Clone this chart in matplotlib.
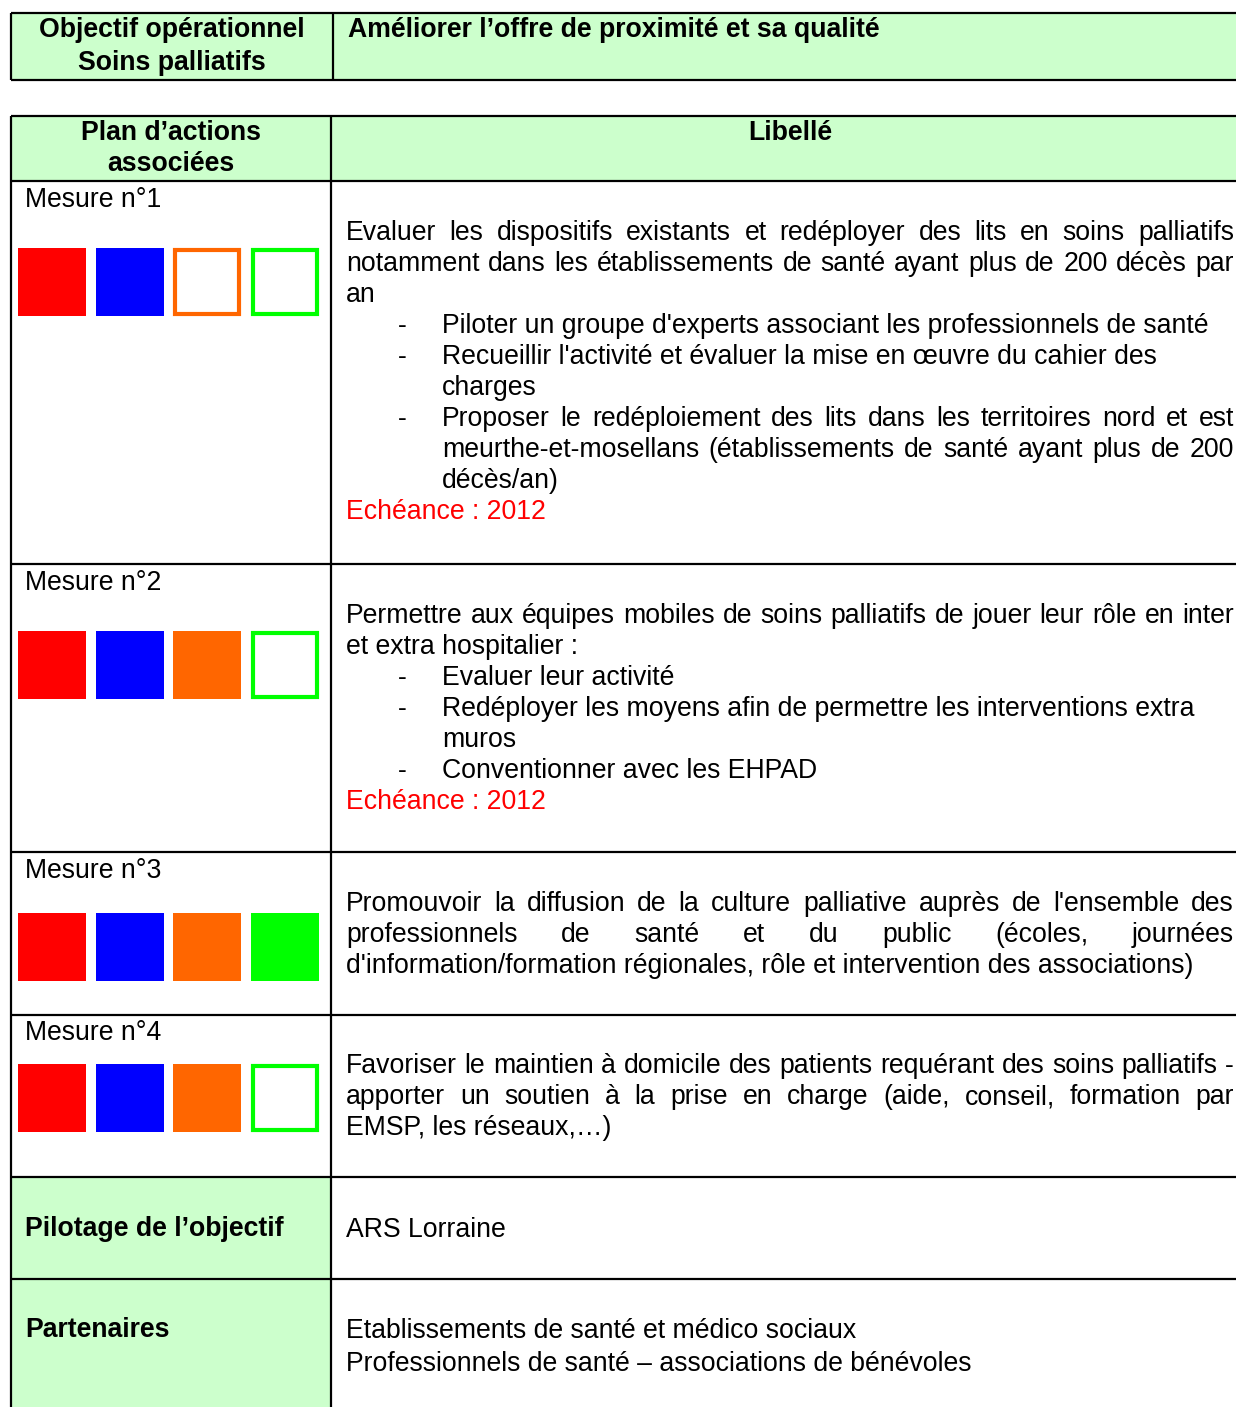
import matplotlib
matplotlib.use('Agg')
import matplotlib.pyplot as plt
from matplotlib.patches import Rectangle

plt.rcParams['font.family'] = ['Liberation Sans', 'DejaVu Sans']

GREEN = '#CCFFCC'
FS = 19.2

# table content
objectif = ['Objectif opérationnel', 'Soins palliatifs']
objectif_titre = 'Améliorer l\u2019offre de proximité et sa qualité'
entetes = [['Plan d\u2019actions', 'associées'], ['Libellé']]

mesures = ['Mesure n°1', 'Mesure n°2', 'Mesure n°3', 'Mesure n°4']
# 1 = filled square, 0 = outlined square
pastilles = [[1, 1, 0, 0],
             [1, 1, 1, 0],
             [1, 1, 1, 1],
             [1, 1, 1, 0]]
pastille_couleurs = ['#FF0000', '#0000FF', '#FF6600', '#00FF00']

# (kind, text): j = justified, p = plain, b/bj = bullet, c/cj = bullet continuation, r = red
libelle1 = [('j', 'Evaluer les dispositifs existants et redéployer des lits en soins palliatifs'),
            ('j', 'notamment dans les établissements de santé ayant plus de 200 décès par'),
            ('p', 'an'),
            ('b', 'Piloter un groupe d\'experts associant les professionnels de santé'),
            ('b', 'Recueillir l\'activité et évaluer la mise en \u0153uvre du cahier des'),
            ('c', 'charges'),
            ('bj', 'Proposer le redéploiement des lits dans les territoires nord et est'),
            ('cj', 'meurthe-et-mosellans (établissements de santé ayant plus de 200'),
            ('c', 'décès/an)'),
            ('r', 'Echéance : 2012')]
libelle2 = [('j', 'Permettre aux équipes mobiles de soins palliatifs de jouer leur rôle en inter'),
            ('p', 'et extra hospitalier :'),
            ('b', 'Evaluer leur activité'),
            ('b', 'Redéployer les moyens afin de permettre les interventions extra'),
            ('c', 'muros'),
            ('b', 'Conventionner avec les EHPAD'),
            ('r', 'Echéance : 2012')]
libelle3 = [('j', 'Promouvoir la diffusion de la culture palliative auprès de l\'ensemble des'),
            ('j', 'professionnels de santé et du public (écoles, journées'),
            ('p', 'd\'information/formation régionales, rôle et intervention des associations)')]
libelle4 = [('j', 'Favoriser le maintien à domicile des patients requérant des soins palliatifs -'),
            ('j', 'apporter un soutien à la prise en charge (aide, conseil, formation par'),
            ('p', 'EMSP, les réseaux,\u2026)')]
libelles = [libelle1, libelle2, libelle3, libelle4]

pilotage = ('Pilotage de l\u2019objectif', ['ARS Lorraine'])
partenaires = ('Partenaires', ['Etablissements de santé et médico sociaux',
                               'Professionnels de santé \u2013 associations de bénévoles'])

# layout (pixels)
W, H = 1236, 1407
row_edges = [181, 564, 852, 1015, 1177, 1279, H]
label_base = [207, 590, 878, 1040]
text_base = [240, 623, 911, 1073]
square_top = [248, 631, 913, 1064]
square_x = [18, 96, 173, 251]
SQ = 68
LINE = 31
XL, XR = 346, 1234
XB, XT = 398, 442

fig = plt.figure(figsize=(W / 100, H / 100), dpi=100)
ax = fig.add_axes([0, 0, 1, 1])
ax.set_xlim(0, W)
ax.set_ylim(H, 0)
ax.axis('off')
renderer = fig.canvas.get_renderer()


def hline(y, x0=11, x1=W):
    ax.plot([x0, x1], [y, y], color='black', lw=1.6, solid_capstyle='butt')


def vline(x, y0, y1):
    ax.plot([x, x], [y0, y1], color='black', lw=1.6, solid_capstyle='butt')


def justified(words_line, x0, x1, y, color='black'):
    words = words_line.split(' ')
    arts = [ax.text(0, y, w, fontsize=FS, color=color, va='baseline') for w in words]
    widths = [a.get_window_extent(renderer).width for a in arts]
    gap = (x1 - x0 - sum(widths)) / max(len(words) - 1, 1)
    x = x0
    for a, w in zip(arts, widths):
        a.set_x(x)
        x += w + gap


# top table
ax.add_patch(Rectangle((11, 13), W - 11, 67, facecolor=GREEN, edgecolor='none'))
hline(13)
hline(80)
vline(11, 13, 80)
vline(333, 13, 80)
for i, t in enumerate(objectif):
    ax.text(172, 37 + 33 * i, t, fontsize=FS, fontweight='bold', ha='center', va='baseline')
ax.text(348, 37, objectif_titre, fontsize=FS, fontweight='bold', va='baseline')

# second table
ax.add_patch(Rectangle((11, 116), W - 11, 65, facecolor=GREEN, edgecolor='none'))
ax.add_patch(Rectangle((11, row_edges[4]), 320, H - row_edges[4], facecolor=GREEN, edgecolor='none'))
for i, t in enumerate(entetes[0]):
    ax.text(171, 140 + 31 * i, t, fontsize=FS, fontweight='bold', ha='center', va='baseline')
ax.text(790, 140, entetes[1][0], fontsize=FS, fontweight='bold', ha='center', va='baseline')

for k, nom in enumerate(mesures):
    ax.text(25, label_base[k], nom, fontsize=FS, va='baseline')
    for j, plein in enumerate(pastilles[k]):
        c = pastille_couleurs[j]
        if plein:
            ax.add_patch(Rectangle((square_x[j], square_top[k]), SQ, SQ, facecolor=c, edgecolor='none'))
        else:
            ax.add_patch(Rectangle((square_x[j] + 2, square_top[k] + 2), SQ - 4, SQ - 4,
                                   facecolor='white', edgecolor=c, lw=3))
    y = text_base[k]
    for kind, t in libelles[k]:
        if kind == 'j':
            justified(t, XL, XR, y)
        elif kind == 'p':
            ax.text(XL, y, t, fontsize=FS, va='baseline')
        elif kind == 'r':
            ax.text(XL, y, t, fontsize=FS, va='baseline', color='#FF0000')
        elif kind in ('b', 'bj'):
            ax.text(XB, y, '-', fontsize=FS, va='baseline')
            if kind == 'bj':
                justified(t, XT, XR, y)
            else:
                ax.text(XT, y, t, fontsize=FS, va='baseline')
        elif kind == 'cj':
            justified(t, XT, XR, y)
        else:
            ax.text(XT, y, t, fontsize=FS, va='baseline')
        y += LINE

for (titre, lignes), base in zip([pilotage, partenaires], [1236, 1337]):
    ax.text(25, base, titre, fontsize=FS, fontweight='bold', va='baseline')
    for i, t in enumerate(lignes):
        ax.text(XL, base + 1 + 33 * i, t, fontsize=FS, va='baseline')

hline(116)
for y in row_edges[:-1]:
    hline(y)
vline(11, 116, H)
vline(331, 116, H)

fig.savefig('out.png', dpi=100)
